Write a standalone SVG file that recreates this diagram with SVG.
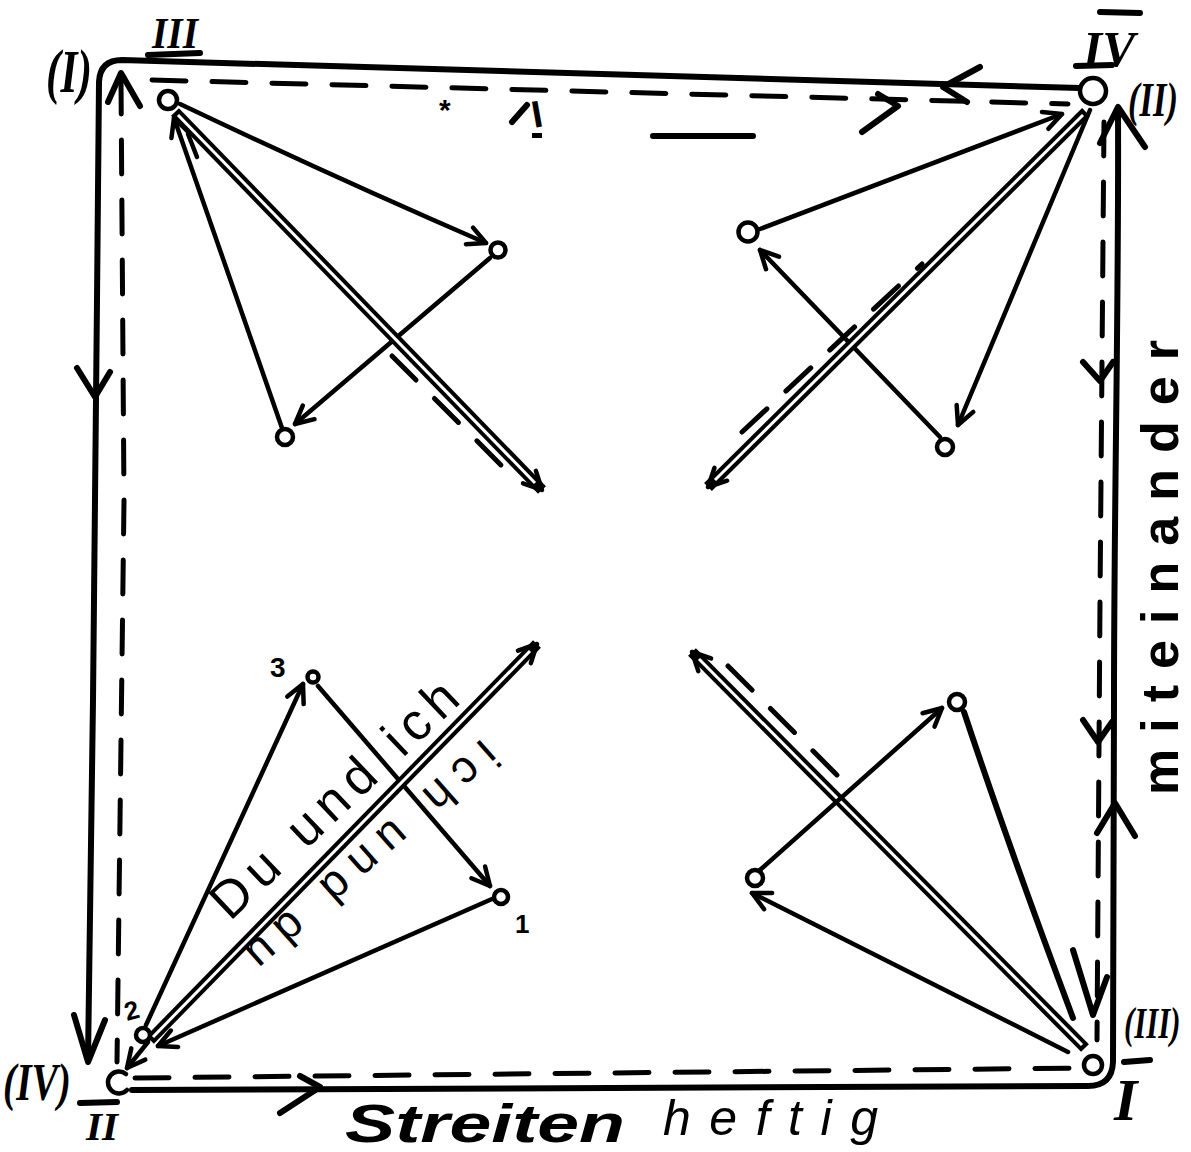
<svg xmlns="http://www.w3.org/2000/svg" width="1191" height="1152" viewBox="0 0 1191 1152">
<style>
.s{stroke:#000;fill:none;stroke-width:4.5;stroke-linecap:round;stroke-linejoin:round}
.f{stroke:#000;fill:none;stroke-width:6;stroke-linecap:round;stroke-linejoin:round}
.d{stroke:#000;fill:none;stroke-width:5;stroke-linecap:round;stroke-dasharray:34 26}
.db{stroke:#000;fill:none;stroke-width:11;stroke-linecap:butt}
.dw{stroke:#fff;fill:none;stroke-width:3;stroke-linecap:butt}
.n{fill:#fff;stroke:#000;stroke-width:4.5}
.r{font-family:"Liberation Serif",serif;font-style:italic;font-weight:bold;fill:#000}
.h{font-family:"Liberation Sans",sans-serif;fill:#000}
</style>
<defs>
<marker id="a" markerUnits="userSpaceOnUse" markerWidth="40" markerHeight="40" refX="0" refY="0" orient="auto" overflow="visible">
<path d="M-18,-9 L0,0 L-18,9" fill="none" stroke="#000" stroke-width="4.5" stroke-linecap="round" stroke-linejoin="round"/>
</marker>
</defs>
<rect width="1191" height="1152" fill="#fff"/>

<g id="frame">
<path class="f" d="M88 1060 L93 700 L97 300 L99 82 Q100 60 122 60 L1080 88"/>
<path class="f" d="M1118 108 C1119 300 1114 500 1114 700 L1113 1062 Q1112 1086 1088 1086 L132 1090"/>
<path class="d" d="M152 80 L1068 104"/>
<path class="d" d="M121 80 L124 500 L117 1062"/>
<path class="d" d="M135 1078 L1082 1068"/>
<path class="d" d="M1104 122 L1100 600 L1097 1040"/>
<g class="f">
<polyline points="77,368 95,397 110,372"/>
<polyline points="74,1015 88,1062 105,1020"/>
<polyline points="980,67 943,87 967,102"/>
<polyline points="1100,143 1118,107 1145,147"/>
<polyline points="1097,833 1115,803 1135,836"/>
<polyline points="300,1076 320,1087 280,1113"/>
<polyline points="108,102 121,73 140,106"/>
<polyline points="512,122 527,105"/>
<polyline points="862,132 898,106 878,94"/>
<polyline points="1083,362 1100,381 1113,362"/>
<polyline points="1083,720 1098,742 1112,722"/>
<polyline points="1073,950 1093,1015 1107,977"/>
</g>
<line class="f" x1="653" y1="136" x2="753" y2="136"/>
<line class="f" x1="148" y1="55" x2="200" y2="53"/>
<line class="f" x1="1100" y1="12" x2="1140" y2="13"/>
<line class="f" x1="1076" y1="66" x2="1112" y2="65"/>
<line class="f" x1="1124" y1="1062" x2="1150" y2="1060"/>
<line class="f" x1="80" y1="1103" x2="117" y2="1102"/>
<rect x="532" y="133" width="10" height="5" fill="#000"/>
</g>

<g id="connectors">
<path class="s" d="M180 104 Q340 180 486 243" marker-end="url(#a)"/>
<path class="s" d="M490 258 L295 424" marker-end="url(#a)"/>
<path class="s" d="M282 428 L174 118" marker-end="url(#a)"/>
<path class="db" d="M175 112 L542 490" marker-end="url(#a)"/>
<path class="dw" d="M178 115 L535 483"/>
<polyline class="s" points="188,134 197,157"/>
<path class="d" d="M392 356 L510 474"/>
<path class="s" d="M760 229 L1062 114" marker-end="url(#a)"/>
<path class="s" d="M940 437 L760 250" marker-end="url(#a)"/>
<path class="s" d="M1090 110 L958 425" marker-end="url(#a)"/>
<path class="db" d="M1086 112 L708 487" marker-end="url(#a)"/>
<path class="dw" d="M1083 115 L715 480"/>
<path class="d" d="M742 432 L922 264"/>
<path class="db" d="M1085 1048 L692 652" marker-end="url(#a)"/>
<path class="dw" d="M1082 1045 L699 659"/>
<path class="d" d="M728 666 L838 776"/>
<path class="f" d="M964 712 Q1010 850 1073 1018"/>
<path class="s" d="M760 870 L942 708" marker-end="url(#a)"/>
<path class="s" d="M1068 1052 L752 893" marker-end="url(#a)"/>
<path class="s" d="M146 1025 L303 684" marker-end="url(#a)"/>
<path class="s" d="M318 686 L490 886" marker-end="url(#a)"/>
<path class="s" d="M492 899 L158 1046" marker-end="url(#a)"/>
<path class="db" d="M150 1040 L537 644" marker-end="url(#a)"/>
<path class="dw" d="M153 1037 L530 651"/>
<path class="s" d="M148 1042 L127 1068" marker-end="url(#a)"/>
</g>

<g id="node-tl"><circle class="n" cx="168" cy="100" r="9"/></g>
<g id="node-tr"><circle class="n" cx="1093" cy="91" r="13"/></g>
<g id="node-br"><circle class="n" cx="1093" cy="1065" r="9"/></g>
<g id="node-bl"><path class="s" d="M126 1074 A11 11 0 1 0 127 1090"/></g>
<g id="node-c1"><circle class="n" cx="498" cy="250" r="7.5"/></g>
<g id="node-c2"><circle class="n" cx="285" cy="437" r="8"/></g>
<g id="node-c3"><circle class="n" cx="748" cy="232" r="9.5"/></g>
<g id="node-c4"><circle class="n" cx="945" cy="447" r="8"/></g>
<g id="node-c5"><circle class="n" cx="957" cy="702" r="8"/></g>
<g id="node-c6"><circle class="n" cx="755" cy="878" r="8"/></g>
<g id="node-2"><circle class="n" cx="143" cy="1035" r="7"/></g>
<g id="node-3"><circle class="n" cx="313" cy="677" r="5.5"/></g>
<g id="node-1"><circle class="n" cx="501" cy="897" r="7"/></g>

<g id="labels">
<text class="r" x="46" y="92" font-size="62" textLength="46" lengthAdjust="spacingAndGlyphs">(I)</text>
<text class="r" x="152" y="48" font-size="44" textLength="46" lengthAdjust="spacingAndGlyphs">III</text>
<text class="r" x="1083" y="66" font-size="50" textLength="52" lengthAdjust="spacingAndGlyphs">IV</text>
<text class="r" transform="translate(1128 116) scale(0.72 1)" font-size="48">(II)</text>
<text class="r" transform="translate(1124 1038) scale(0.7 1)" font-size="44">(III)</text>
<text class="r" x="1114" y="1120" font-size="60">I</text>
<text class="r" x="3" y="1100" font-size="52" textLength="68" lengthAdjust="spacingAndGlyphs">(IV)</text>
<text class="r" x="86" y="1140" font-size="40" textLength="32" lengthAdjust="spacingAndGlyphs">II</text>
<text class="h" x="270" y="677" font-size="28" font-weight="bold">3</text>
<text class="h" x="515" y="933" font-size="26" font-weight="bold">1</text>
<text class="h" x="127" y="1021" font-size="26" font-weight="bold" transform="rotate(-15 127 1021)">2</text>
<text class="h" x="439" y="120" font-size="30" font-weight="bold">*</text>
<text class="h" x="534" y="128" font-size="38" font-weight="bold" transform="rotate(-10 534 128)">I</text>
<text class="h" x="230" y="922" font-size="52" textLength="320" lengthAdjust="spacing" transform="rotate(-43.5 230 922)">Du und ich</text>
<text class="h" x="482" y="738" font-size="46" textLength="320" lengthAdjust="spacing" transform="rotate(138.5 482 738)">ich und du</text>
<text class="h" x="1178" y="795" font-size="52" font-weight="bold" textLength="455" lengthAdjust="spacing" transform="rotate(-90 1178 795)">miteinander</text>
<text class="h" x="345" y="1142" font-size="54" font-weight="bold" font-style="italic" textLength="280" lengthAdjust="spacingAndGlyphs">Streiten</text>
<text class="h" x="663" y="1135" font-size="50" font-style="italic" textLength="215" lengthAdjust="spacing">heftig</text>
</g>
</svg>
